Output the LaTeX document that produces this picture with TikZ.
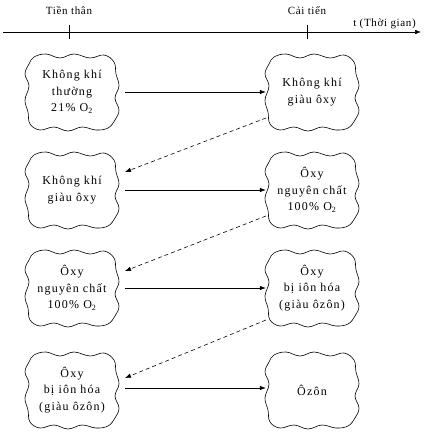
\documentclass[tikz,border=0pt]{standalone}
\usepackage{fontspec}
\setmainfont{Liberation Serif}
\usetikzlibrary{arrows.meta}
\newcommand\blobline[1]{%
  \draw[line width=0.6pt, shift={(#1.center)}] plot[smooth cycle, tension=0.65] coordinates {
    (-38,-35) (-26,-38) (-12,-34) (2,-38) (18,-34) (32,-37)
    (42,-30) (44,-18) (47,-6) (43,6) (47,18) (43,28)
    (36,36) (24,38) (10,35) (-4,39) (-18,35) (-32,38)
    (-42,32) (-44,20) (-47,8) (-43,-6) (-47,-18) (-43,-28)};}
\begin{document}
\begin{tikzpicture}[x=1pt,y=-1pt,
  blob/.style={minimum width=92pt, minimum height=76pt, align=center, inner sep=0pt,
    font=\fontsize{12}{16.7}\selectfont\addfontfeature{LetterSpace=10}},
  lab/.style={font=\fontsize{11}{13}\selectfont\addfontfeature{LetterSpace=6}, inner sep=0pt},
  solidarrow/.style={-{Latex[length=6pt,width=4.5pt]}, line width=0.6pt},
  dasharrow/.style={-{Latex[length=6pt,width=4.5pt]}, dash pattern=on 4pt off 3pt, line width=0.6pt}]
\useasboundingbox (0,0) rectangle (423,436);
% time axis
\coordinate (ax0) at (3,32);
\coordinate (ax1) at (421,32);
\draw[-{Latex[length=6pt,width=4.5pt]}, line width=0.5pt] (ax0) -- (ax1);
\coordinate (t1a) at (69,25); \coordinate (t1b) at (69,39);
\coordinate (t2a) at (307,25); \coordinate (t2b) at (307,39);
\draw[line width=0.6pt] (t1a) -- (t1b);
\draw[line width=0.6pt] (t2a) -- (t2b);
\node[lab] (tt) at (69,11) {Tiền thân};
\node[lab] (ct) at (307,11) {Cải tiến};
\node[lab, anchor=east] (tg) at (416,24) {t (Thời gian)};
% blobs
\node[blob] (L1) at (72,92) {Không khí\\thường\\21\% O\textsubscript{2}};
\node[blob] (R1) at (312,92) {Không khí\\giàu ôxy};
\node[blob] (L2) at (72,190) {Không khí\\giàu ôxy};
\node[blob] (R2) at (312,190) {Ôxy\\nguyên chất\\100\% O\textsubscript{2}};
\node[blob] (L3) at (72,288) {Ôxy\\nguyên chất\\100\% O\textsubscript{2}};
\node[blob] (R3) at (312,288) {Ôxy\\bị iôn hóa\\(giàu ôzôn)};
\node[blob] (L4) at (72,390) {Ôxy\\bị iôn hóa\\(giàu ôzôn)};
\node[blob] (R4) at (312,390) {Ôzôn};
\foreach \n in {L1,R1,L2,R2,L3,R3,L4,R4} {\blobline{\n}}
% solid arrows
\draw[solidarrow] ([xshift=7pt]L1.east) -- (R1.west);
\draw[solidarrow] ([xshift=7pt]L2.east) -- (R2.west);
\draw[solidarrow] ([xshift=7pt]L3.east) -- (R3.west);
\draw[solidarrow] ([xshift=7pt,yshift=2pt]L4.east) -- ([yshift=2pt]R4.west);
% dashed arrows
\draw[dasharrow] ([xshift=-46pt,yshift=-26pt]R1.center) -- ([xshift=53pt,yshift=18pt]L2.center);
\draw[dasharrow] ([xshift=-46pt,yshift=-26pt]R2.center) -- ([xshift=53pt,yshift=17pt]L3.center);
\draw[dasharrow] ([xshift=-46pt,yshift=-32pt]R3.center) -- ([xshift=53pt,yshift=12pt]L4.center);
\end{tikzpicture}
\end{document}
